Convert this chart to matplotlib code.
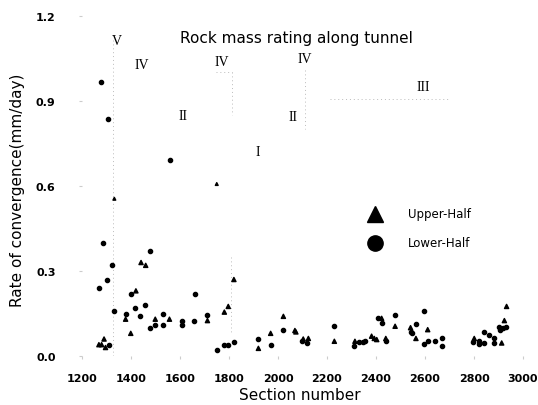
import matplotlib
matplotlib.use("Agg")
import matplotlib.pyplot as plt

# Upper-half (triangles)
upper_x = [1269, 1280, 1290, 1296, 1332, 1378, 1399, 1420, 1441, 1460, 1499, 1557,
           1712, 1750, 1781, 1797, 1820, 1920, 1970, 2022, 2069, 2073, 2103, 2124,
           2230, 2314, 2382, 2393, 2403, 2423, 2440, 2478, 2541, 2563, 2611, 2801,
           2913, 2924, 2933]
upper_y = [0.04, 0.04, 0.06, 0.03, 0.555, 0.13, 0.08, 0.23, 0.33, 0.32, 0.13, 0.13,
           0.125, 0.607, 0.155, 0.175, 0.27, 0.027, 0.08, 0.14, 0.09, 0.085, 0.06, 0.062,
           0.052, 0.052, 0.07, 0.062, 0.058, 0.133, 0.062, 0.105, 0.10, 0.062, 0.093, 0.062,
           0.046, 0.125, 0.175]

# Lower-half (circles)
lower_x = [1278, 1307, 1559, 1287, 1477, 1321, 1301, 1269, 1400, 1332, 1418, 1459,
           1378, 1438, 1529, 1499, 1478, 1529, 1310, 1610, 1610, 1658, 1661, 1709,
           1750, 1780, 1795, 1820, 1920, 1970, 2022, 2099, 2117, 2230, 2311, 2331,
           2348, 2355, 2407, 2423, 2440, 2478, 2541, 2545, 2562, 2597, 2597, 2611,
           2641, 2671, 2671, 2797, 2822, 2822, 2842, 2842, 2862, 2883, 2883, 2903,
           2906, 2920, 2931]
lower_y = [0.967, 0.835, 0.692, 0.40, 0.37, 0.32, 0.27, 0.24, 0.22, 0.16, 0.17, 0.18,
           0.15, 0.14, 0.15, 0.11, 0.10, 0.11, 0.04, 0.125, 0.11, 0.125, 0.22, 0.145,
           0.022, 0.04, 0.04, 0.05, 0.06, 0.04, 0.093, 0.052, 0.046, 0.105, 0.034, 0.048,
           0.048, 0.052, 0.133, 0.115, 0.054, 0.145, 0.086, 0.081, 0.113, 0.16, 0.042, 0.052,
           0.052, 0.062, 0.034, 0.048, 0.052, 0.042, 0.046, 0.083, 0.074, 0.062, 0.046, 0.103,
           0.093, 0.10, 0.103]

# Rock mass rating class labels
rmr_labels = ["V", "IV", "IV", "II", "I", "IV", "II", "III"]
rmr_x = [1343, 1445, 1771, 1612, 1918, 2110, 2061, 2592]
rmr_y = [1.113, 1.03, 1.04, 0.848, 0.72, 1.05, 0.845, 0.95]

x_ticks = [1200, 1400, 1600, 1800, 2000, 2200, 2400, 2600, 2800, 3000]
y_ticks = [0.0, 0.3, 0.6, 0.9, 1.2]

W, H = 538, 406
fig = plt.figure(figsize=(W / 100, H / 100), dpi=100)
ax = fig.add_axes([82 / W, (H - 357) / H, 441 / W, 340 / H])
ax.set_xlim(1200, 3000)
ax.set_ylim(0, 1.2)
for s in ax.spines.values():
    s.set_visible(False)

ax.set_xticks(x_ticks)
ax.set_xticklabels([str(t) for t in x_ticks])
ax.set_yticks(y_ticks)
ax.set_yticklabels([f"{t:.1f}" for t in y_ticks])
ax.tick_params(axis="x", length=2, color="#cccccc", pad=10, labelsize=8)
ax.tick_params(axis="y", length=2, color="#cccccc", pad=17, labelsize=8)
for lbl in ax.get_xticklabels() + ax.get_yticklabels():
    lbl.set_fontweight("semibold")

# faint zone boundary lines (scan remnants)
lc = dict(color="#bbbbbb", lw=0.7, ls=(0, (1, 3)))
ax.plot([1325, 1325], [0.0, 1.12], **lc)
ax.plot([1745, 1812], [1.003, 1.003], **lc)
ax.plot([1812, 1812], [1.003, 0.85], **lc)
ax.plot([2110, 2110], [1.01, 0.80], **lc)
ax.plot([2212, 2702], [0.908, 0.908], **lc)
ax.plot([1810, 1810], [0.35, 0.08], **lc)

# the two isolated upper-half marks high up appear as tiny marks
upper_s = [4 if y > 0.5 else 9 for y in upper_y]
ax.scatter(upper_x, upper_y, marker="^", s=upper_s, color="black", clip_on=False, zorder=3)
ax.scatter(lower_x, lower_y, marker="o", s=9, color="black", clip_on=False, zorder=3)

for lab, x, y in zip(rmr_labels, rmr_x, rmr_y):
    ax.text(x, y, lab, family="Liberation Serif", fontsize=10, ha="center", va="center")

fig.text(296 / W, 1 - 38 / H, "Rock mass rating along tunnel", fontsize=11,
         ha="center", va="center")

# legend
fig.lines.append(plt.Line2D([375 / W], [1 - 215 / H], marker="^", markersize=11,
                            color="black", transform=fig.transFigure))
fig.lines.append(plt.Line2D([375 / W], [1 - 244 / H], marker="o", markersize=11,
                            color="black", transform=fig.transFigure))
fig.text(408 / W, 1 - 215 / H, "Upper-Half", fontsize=8.5, ha="left", va="center")
fig.text(408 / W, 1 - 244 / H, "Lower-Half", fontsize=8.5, ha="left", va="center")

fig.text(300 / W, 1 - 396 / H, "Section number", fontsize=11, ha="center", va="center")
fig.text(18 / W, 1 - 190 / H, "Rate of convergence(mm/day)", fontsize=11,
         ha="center", va="center", rotation=90)

fig.savefig("out.png", dpi=100)
